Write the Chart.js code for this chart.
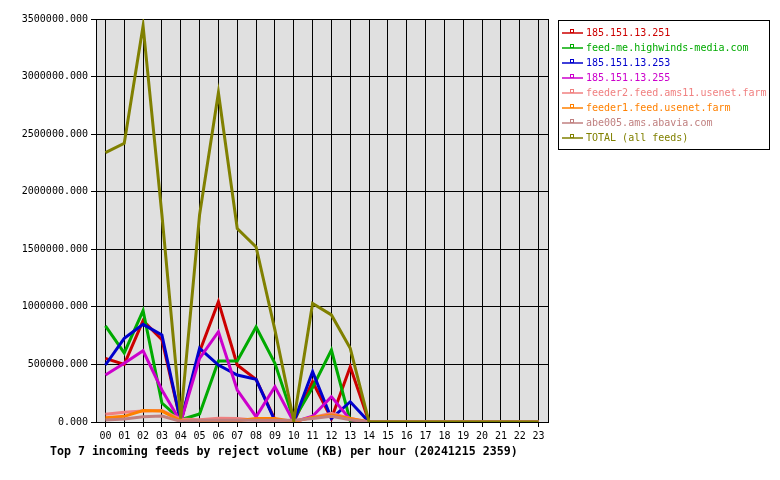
<!DOCTYPE html>
<html>
<head>
<meta charset="utf-8">
<script src="https://cdn.jsdelivr.net/npm/chart.js@4/dist/chart.umd.min.js"></script>
<style>
html,body{margin:0;padding:0;background:#fff;}
#wrap{position:relative;width:780px;height:480px;}
</style>
</head>
<body>
<div id="wrap"><canvas id="c" width="780" height="480"></canvas></div>
<script>
const hours = ['00','01','02','03','04','05','06','07','08','09','10','11','12','13','14','15','16','17','18','19','20','21','22','23'];
const seriesNames = ['185.151.13.251','feed-me.highwinds-media.com','185.151.13.253','185.151.13.255','feeder2.feed.ams11.usenet.farm','feeder1.feed.usenet.farm','abe005.ams.abavia.com','TOTAL (all feeds)'];
const seriesColors = ['#cc0000','#00aa00','#0000cc','#cc00cc','#f08080','#ff8000','#c08080','#808000'];
const feed251 = [553000,500000,880000,715000,0,610000,1045000,495000,370000,20000,0,350000,30000,480000,0,0,0,0,0,0,0,0,0,0];
const feedHighwinds = [834000,600000,967000,165000,20000,70000,530000,530000,825000,510000,20000,300000,625000,10000,0,0,0,0,0,0,0,0,0,0];
const feed253 = [495000,727000,848000,756000,0,640000,495000,408000,371000,10000,0,437000,30000,176000,0,0,0,0,0,0,0,0,0,0];
const feed255 = [408000,510000,619000,278000,0,553000,784000,278000,46000,307000,0,50000,220000,20000,0,0,0,0,0,0,0,0,0,0];
const feedFeeder2 = [67000,84000,95000,100000,26000,20000,32000,30000,15000,10000,5000,40000,75000,30000,0,0,0,0,0,0,0,0,0,0];
const feedFeeder1 = [37000,49000,100000,95000,10000,5000,5000,10000,30000,30000,5000,40000,60000,30000,0,0,0,0,0,0,0,0,0,0];
const feedAbe005 = [17000,26000,46000,52000,5000,15000,15000,15000,15000,15000,15000,30000,50000,20000,0,0,0,0,0,0,0,0,0,0];
const feedTotal = [2340000,2420000,3440000,1800000,30000,1800000,2860000,1680000,1520000,800000,10000,1030000,930000,640000,0,0,0,0,0,0,0,0,0,0];
const yTicksMax = 3500000;
const yTickStep = 500000;
const chartTitle = 'Top 7 incoming feeds by reject volume (KB) per hour (20241215 2359)';

const allSeries = [feed251, feedHighwinds, feed253, feed255, feedFeeder2, feedFeeder1, feedAbe005, feedTotal];
const FONT = "'DejaVu Sans Mono', 'Liberation Mono', monospace";

const datasets = allSeries.map((d, i) => ({
  label: seriesNames[i],
  data: d,
  borderColor: seriesColors[i],
  backgroundColor: seriesColors[i],
  borderWidth: 3,
  pointRadius: 0,
  tension: 0,
  fill: false,
  order: -i
}));

const decor = {
  id: 'decor',
  beforeDraw(chart) {
    const {ctx, chartArea: a} = chart;
    ctx.save();
    ctx.fillStyle = '#e0e0e0';
    ctx.fillRect(a.left, a.top, a.right - a.left, a.bottom - a.top);
    ctx.restore();
  },
  beforeDatasetsDraw(chart) {
    const {ctx, chartArea: a} = chart;
    ctx.save();
    ctx.strokeStyle = '#000';
    ctx.lineWidth = 1;
    ctx.strokeRect(Math.round(a.left) + 0.5, Math.round(a.top) + 0.5, Math.round(a.right - a.left), Math.round(a.bottom - a.top));
    ctx.restore();
  },
  afterDraw(chart) {
    const ctx = chart.ctx;
    ctx.save();
    // title
    ctx.font = "bold 11.6px " + FONT;
    ctx.fillStyle = '#000';
    ctx.textBaseline = 'middle';
    ctx.textAlign = 'left';
    ctx.fillText(chartTitle, 50, 452);
    // legend box
    ctx.strokeStyle = '#000';
    ctx.lineWidth = 1;
    ctx.strokeRect(558.5, 20.5, 211, 129);
    ctx.font = "10px " + FONT;
    chart.data.datasets.forEach((ds, i) => {
      const y = 33 + 15 * i;
      ctx.strokeStyle = ds.borderColor;
      ctx.lineWidth = 1.5;
      ctx.beginPath();
      ctx.moveTo(562, y);
      ctx.lineTo(583, y);
      ctx.stroke();
      ctx.lineWidth = 1;
      ctx.strokeRect(570.5, y - 3.5, 3, 3);
      ctx.fillStyle = ds.borderColor;
      ctx.fillText(ds.label, 586, y);
    });
    ctx.restore();
  }
};

new Chart(document.getElementById('c'), {
  type: 'line',
  data: { labels: hours, datasets },
  options: {
    responsive: false,
    animation: false,
    devicePixelRatio: 1,
    layout: { padding: { top: 19, right: 232, left: 0, bottom: 0 } },
    plugins: { legend: { display: false }, title: { display: false }, tooltip: { enabled: false } },
    scales: {
      x: {
        type: 'category',
        offset: true,
        grid: { color: '#000', offset: false, tickLength: 5, lineWidth: 1, drawOnChartArea: true },
        border: { color: '#000', width: 1 },
        ticks: { color: '#000', font: { family: FONT, size: 10 }, padding: 3, maxRotation: 0, autoSkip: false },
        afterFit(s) { s.height = 58; }
      },
      y: {
        min: 0,
        max: yTicksMax,
        grid: { color: '#000', tickLength: 5, lineWidth: 1 },
        border: { color: '#000', width: 1 },
        ticks: { stepSize: yTickStep, color: '#000', font: { family: FONT, size: 10 }, padding: 3, callback: v => Number(v).toFixed(3) },
        afterFit(s) { s.width = 96; }
      }
    }
  },
  plugins: [decor]
});
</script>
</body>
</html>
